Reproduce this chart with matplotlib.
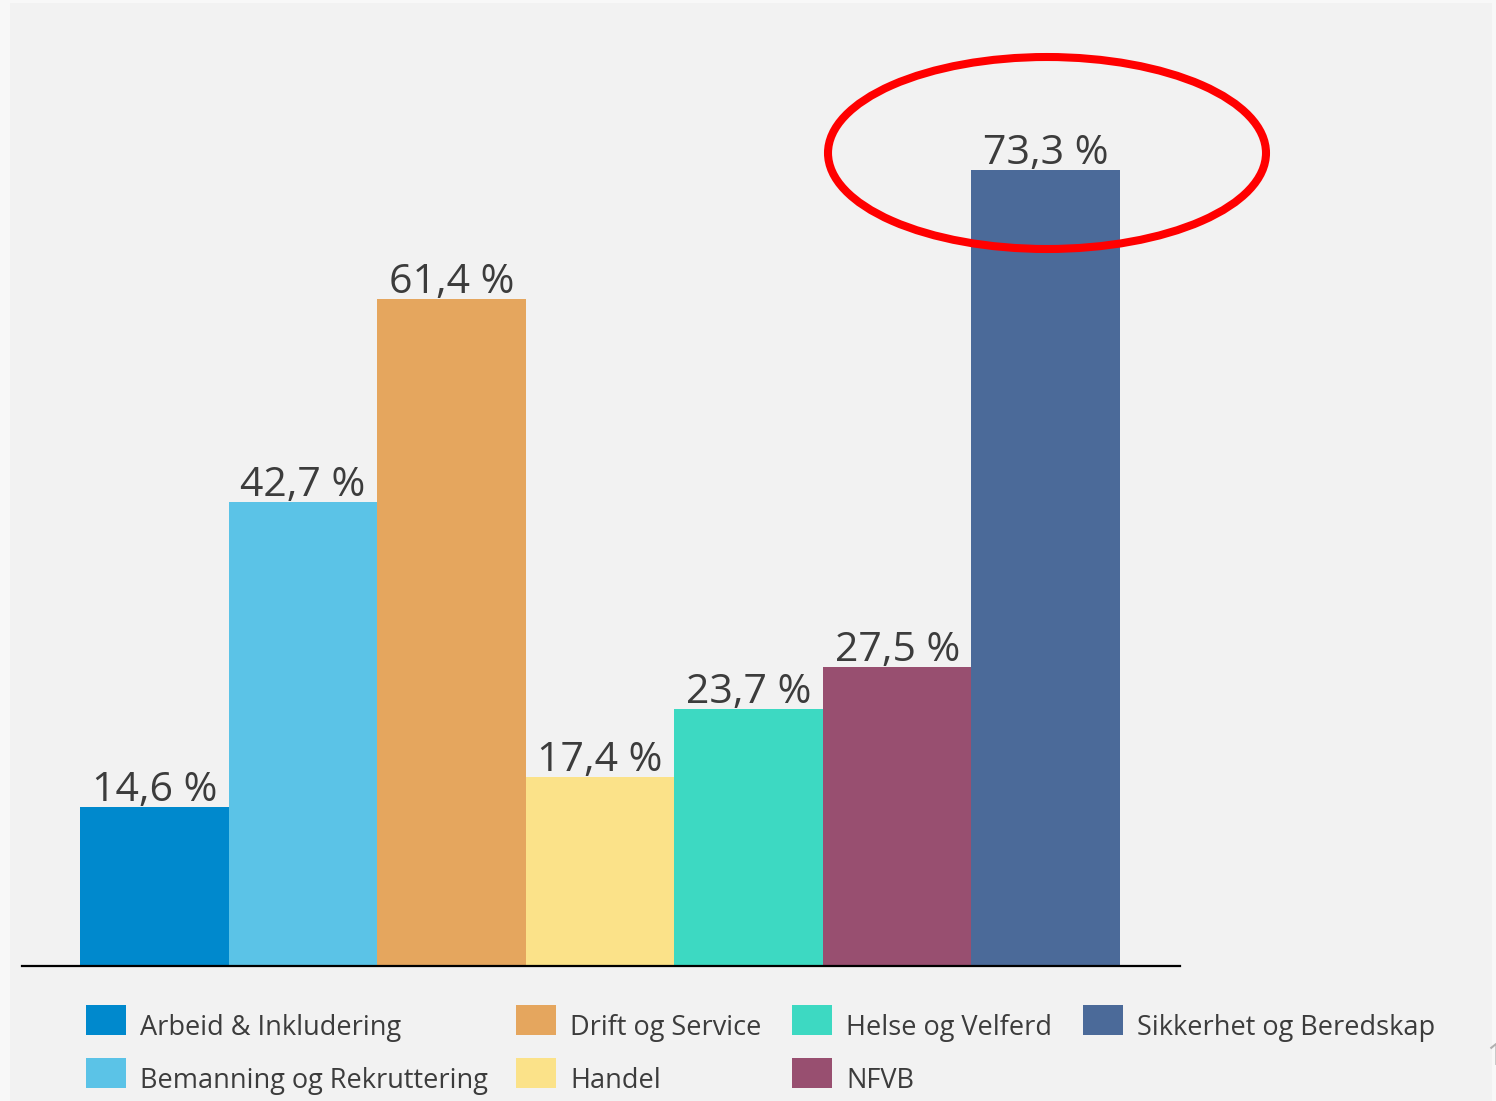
import matplotlib
matplotlib.use("Agg")
import matplotlib.pyplot as plt
from matplotlib.patches import Rectangle, Ellipse

categories = ["Arbeid & Inkludering", "Bemanning og Rekruttering", "Drift og Service",
              "Handel", "Helse og Velferd", "NFVB", "Sikkerhet og Beredskap"]
values = [14.6, 42.7, 61.4, 17.4, 23.7, 27.5, 73.3]
labels = ["14,6 %", "42,7 %", "61,4 %", "17,4 %", "23,7 %", "27,5 %", "73,3 %"]
colors = ["#0089cd", "#5bc3e7", "#e5a65e", "#fbe289", "#3dd9c2", "#984f70", "#4b6a99"]

W, H = 1496, 1101
DPI = 100
fig = plt.figure(figsize=(W / DPI, H / DPI), dpi=DPI)
fig.patch.set_facecolor("#f8f8f8")

def fx(px):
    return px / W

def fy(py):
    return 1 - py / H

# inner panel
fig.add_artist(Rectangle((fx(10), 0), fx(1492) - fx(10), fy(3), transform=fig.transFigure,
                         facecolor="#f2f2f2", edgecolor="none", zorder=0))

FONT = ["Open Sans", "DejaVu Sans"]
TXT = "#3c3c3c"

ax_left, ax_right, ax_bottom, ax_top = 22, 1180, 966, 3
ax = fig.add_axes([fx(ax_left), fy(ax_bottom), fx(ax_right) - fx(ax_left), fy(ax_top) - fy(ax_bottom)])
ax.set_facecolor("none")

x = list(range(len(values)))
ax.bar(x, values, width=1.0, color=colors, edgecolor="none", zorder=2)

unit = 148.6
ax.set_xlim(-0.5 - (80 - ax_left) / unit, 6.5 + (ax_right - 1120) / unit)
ppu = (966 - 170) / 73.3
ax.set_ylim(0, (ax_bottom - ax_top) / ppu)

for xi, v, lab in zip(x, values, labels):
    ax.annotate(lab, (xi, v), xytext=(0, 6), textcoords="offset pixels",
                ha="center", va="baseline", fontsize=29.5, color=TXT, family=FONT)

for s in ["top", "right", "left"]:
    ax.spines[s].set_visible(False)
ax.spines["bottom"].set_linewidth(1.6)
ax.spines["bottom"].set_color("black")
ax.spines["bottom"].set_zorder(3)
ax.set_xticks([])
ax.set_yticks([])

# legend (manual, column-major with 2 rows)
col_x = [86, 516, 792, 1083]
row_y = [1005, 1058]
for i, (cat, col) in enumerate(zip(categories, colors)):
    c, r = divmod(i, 2)
    x0, y0 = col_x[c], row_y[r]
    fig.add_artist(Rectangle((fx(x0), fy(y0 + 30)), fx(40), 30 / H, transform=fig.transFigure,
                             facecolor=col, edgecolor="none"))
    fig.text(fx(x0 + 54), fy(y0 + 30), cat, ha="left", va="baseline",
             fontsize=19.5, color=TXT, family=FONT)

# red ellipse highlight
fig.add_artist(Ellipse((fx(1047), fy(153)), fx(438), 192 / H, transform=fig.transFigure,
                       facecolor="none", edgecolor="#ff0000", linewidth=5.8, zorder=10))

# page number partly cut off at the right edge, as in the source screenshot
fig.text(fx(1486), fy(1065), "1", ha="left", va="baseline", fontsize=22,
         color="#b0b0b0", family=FONT)

fig.savefig("out.png", dpi=DPI, facecolor=fig.get_facecolor())
